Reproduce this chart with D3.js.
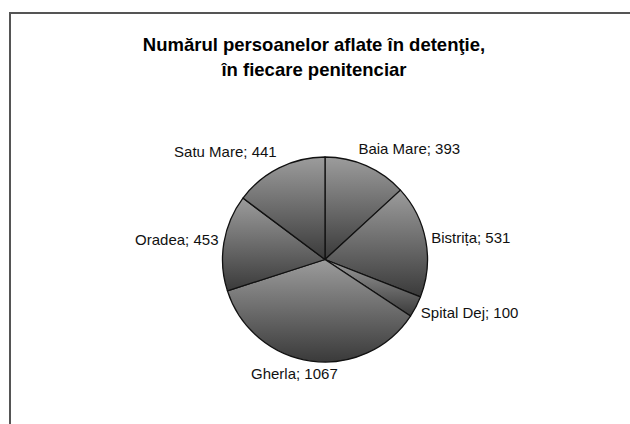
<!DOCTYPE html>
<html>
<head>
<meta charset="utf-8">
<title>Numarul persoanelor</title>
<script src="https://d3js.org/d3.v7.min.js"></script>
<style>
  body { margin: 0; background: #fff; }
  text { font-family: "Liberation Sans", Arial, sans-serif; }
</style>
</head>
<body>
<script>
var w = 630, h = 424;

var names = ["Baia Mare", "Bistrița", "Spital Dej", "Gherla", "Oradea", "Satu Mare"];
var values = [393, 531, 100, 1067, 453, 441];
var titleLines = ["Numărul persoanelor aflate în detenţie,", "în fiecare penitenciar"];

var data = names.map(function(n, i){ return {name: n, value: values[i]}; });

var svg = d3.select("body").append("svg")
  .attr("width", w)
  .attr("height", h);

var defs = svg.append("defs");
var grad = defs.append("linearGradient")
  .attr("id", "sliceGrad")
  .attr("x1", 0).attr("y1", 0).attr("x2", 0).attr("y2", 1);
grad.append("stop").attr("offset", "0%").attr("stop-color", "#9c9c9c");
grad.append("stop").attr("offset", "100%").attr("stop-color", "#3a3a3a");

// chart frame (only left and top edges are visible)
svg.append("path")
  .attr("d", "M10," + (h + 5) + "V13H" + (w + 5))
  .attr("fill", "none")
  .attr("stroke", "#555")
  .attr("stroke-width", 2);

svg.append("g").selectAll("text")
  .data(titleLines)
  .enter().append("text")
  .attr("x", 314)
  .attr("y", function(d, i){ return 51 + i * 25; })
  .attr("text-anchor", "middle")
  .style("font-size", "18.5px")
  .style("font-weight", "bold")
  .text(function(d){ return d; });

var cx = 325, cy = 259.5, r = 102.5;

var pie = d3.pie().sort(null).value(function(d){ return d.value; });
var arcs = pie(data);
var arc = d3.arc().innerRadius(0).outerRadius(r);

var g = svg.append("g").attr("transform", "translate(" + cx + "," + cy + ")");

g.selectAll("path")
  .data(arcs)
  .enter().append("path")
  .attr("d", arc)
  .attr("fill", "url(#sliceGrad)")
  .attr("stroke", "#111")
  .attr("stroke-width", 1.3)
  .attr("stroke-linejoin", "round");

// data labels, outside end
var lr = 108, lh = 16;
var labels = g.selectAll(".lab")
  .data(arcs)
  .enter().append("text")
  .attr("class", "lab")
  .style("font-size", "15px")
  .attr("fill", "#111")
  .text(function(d){ return d.data.name + "; " + d.data.value; });

labels.each(function(d){
  var a = (d.startAngle + d.endAngle) / 2;
  var s = Math.sin(a), c = Math.cos(a);
  var px = lr * s, py = -lr * c;
  var tw = this.getComputedTextLength();
  var x;
  if (s > 0.3) x = px - (s < 0.6 ? 10 : 0);
  else if (s < -0.3) x = px - tw;
  else x = px + s * tw / 2 - tw / 2 - 10;
  var yc = py - c * lh / 2 - (c > 0.85 ? 4 : 0);
  d3.select(this).attr("x", x).attr("y", yc + 5);
});
</script>
</body>
</html>
